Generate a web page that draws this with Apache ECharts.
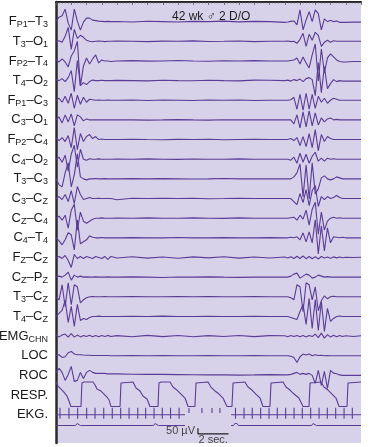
<!DOCTYPE html>
<html><head><meta charset="utf-8">
<script src="https://cdn.jsdelivr.net/npm/echarts@6/dist/echarts.min.js"></script>
<style>html,body{margin:0;padding:0;background:#fff}#c{width:371px;height:447px}</style>
</head><body><div id="c"></div>
<script>
// ---------- time grid (seconds) shared by the EEG / EMG / EOG channels ----------
const T = [0,0.2,0.4,0.6,0.8,1.0,1.2,1.4,1.6,1.8,2.0,2.2,2.4,2.6,2.8,3.0,3.2,3.4,3.6,
  4,5,6,7,8,9,10,11,12,13,14,
  15.0,15.2,15.4,15.6,15.8,16.0,16.2,16.4,16.6,16.8,17.0,17.2,17.4,17.6,17.8,18.0,18.2,18.4,18.6,18.8,19.0,
  19.5,20];

// ---------- channel labels (rich text for subscripts) ----------
const CHANNEL_LABELS = ['F{s|P1}–T{s|3}','T{s|3}–O{s|1}','F{s|P2}–T{s|4}','T{s|4}–O{s|2}','F{s|P1}–C{s|3}','C{s|3}–O{s|1}',
  'F{s|P2}–C{s|4}','C{s|4}–O{s|2}','T{s|3}–C{s|3}','C{s|3}–C{s|Z}','C{s|Z}–C{s|4}','C{s|4}–T{s|4}','F{s|Z}–C{s|Z}',
  'C{s|Z}–P{s|Z}','T{s|3}–C{s|Z}','T{s|4}–C{s|Z}','EMG{s|CHN}','LOC','ROC','RESP.','EKG.'];

// ---------- channel deflections (upward positive), one value per time in T ----------
const FP1_T3 = [0.5,4.5,6,12.5,-1.5,-8.5,12.5,0.5,-8.5,-0.5,3.5,3.5,1.5,1,0.5,0.3,0,0.3,0, 0.2,-0.3,0.4,0,-0.4,0.3,0,0.5,-0.2,0.3,0, -0.7,-0.3,0.3,0.7,-3.3,11.7,-8.3,1.7,10,0,11.7,8,-8.3,2.7,0,1.3,0,0.7,-0.7,-0.7,-0.7, -0.5,-0.5];
const T3_O1 = [0,0.5,-1,5,14,-8,12,3,6,4,1,0,-0.5,0,0.3,0,-0.3,0,0, 0.3,0,-0.3,0.2,0,0.4,-0.2,0,0.3,-0.3,0, 0,0.3,-0.3,0,-2,2,8,-5,7,1,9,6,-5,-1,1,-1,0.5,0,0,0,0, 0,0];
const FP2_T4 = [1.5,-1,2,-1,-6,5,10,19.5,-25,-5,3,-3,2,6,-2,1,0,0,-0.5, 0,0.3,-0.2,0,0.4,0,-0.3,0.2,0,0.3,0, 0,0,0.5,1,3,-3,4,-2,-7,6,17,-20,12,-12,3,7,4,1,-0.5,-1,-1, -0.5,-0.5];
const T4_O2 = [1,0,2,-1,3,10,-11,20,-5,-2,-4,-1,0.5,0,0,0.3,0,0,0, 0.2,0,-0.3,0.3,0,-0.2,0.4,0,-0.3,0.5,0.3, 0,0.5,-0.5,1,0,1.5,-1,2,3,1,-15,18,-12,14,-8,-3,1,-1,0,-0.5,-0.5, -0.5,-0.5];
const FP1_C3 = [0,2,-2,4,-3,7,-8,5,-4,3,-2,1,0.5,0,0.3,0,0,0.2,0, 0,0.3,-0.2,0.2,0,-0.3,0.3,0,0.2,-0.2,0, 0,0,0.5,3,-9,6,-10,7,-9,6,-8,4,-2,2,-3,0,2,1,0,0,0, 0,0];
const C3_O1 = [0,3,-3,5,-2,6,-6,5,3,-1,1,0,0.2,0,0,0.2,0,0,0, 0.2,0,-0.2,0,0.3,0,-0.2,0.2,0,0,0.2, 0,0,0,-4,5,-8,8,-7,9,-6,7,-5,2,-2,1,2,0,0.5,0,0,0, 0,0];
const FP2_C4 = [1,-1,2,-2,4,-8,12,-10,6,-2,3,5,1,3,0,0.5,0,0,0, 0,0.3,0,-0.2,0.2,0,0.3,-0.2,0,0.2,0, 0,0,1,-1,2,-6,3,-7,6,-8,10,-11,5,-2,3,1,0,0,0,0,0, 0,0];
const C4_O2 = [0,2,-3,4,-12,5,14,-8,10,0,-1,0.5,0,0,0.3,0,0,0,0, 0.2,0,0.3,0,-0.2,0.2,0,0,0.3,0,0, 0,0,-1,2,-4,6,-3,5,-4,3,7,-2,1,-2,1,0,0.5,0,0,0,0, 0,0];
const T3_C3 = [0,-6,-8,6,16,-8,4,25,2,0,-1,0,0,0.3,0,0,0.2,0,0, 0,0.2,0,0.2,0,-0.2,0,0.3,0,0,0, 0,0,0,2,6,15,-18,14,-20,16,-15,-10,1,3,0,-1,0,2,1,0,0, 0,0];
const C3_CZ = [0,2,-1,4,-3,8,-5,12,4,-1,0,1,0,0,0.3,0,0,0,0, -1.2,0.2,0,0.3,0,0.2,-0.2,0,0.3,0,0, 0,0,0,-3,-6,5,-4,9,-7,8,13,-8,2,-1,2,0,1,3,1,0,0, 0,0];
const CZ_C4 = [0,2,-2,3,-10,8,14,-12,6,-3,-5,-3,-1,0,0,0.3,0,0,0, 0.2,0,0.3,0,0,0.3,0,-0.2,0.3,0,0, 0,0,0.5,1,-2,3,-1,8,-7,9,16,-16,6,-12,-3,0,1,0,0.5,0,0, 0,0];
const C4_T4 = [0,-3,-7,-2,5,3,-12,18,-6,-4,-2,2,0.5,0,0,0.3,0,0,0, 0,0.2,0,0,0.3,0,0,0.2,0,0,0.2, 0,0,0.5,0,1,-2,5,-4,6,-5,18,-16,12,-13,10,-5,1,0.5,0,0.5,0, 0,0];
const FZ_CZ = [0,1,-1,2,-3,-10,3,-1,1,-1,1,0,-1,1,0,-1,1,-2,1, -0.5,0.8,-0.6,0.5,-0.8,0.6,-0.4,0.7,-0.6,0.5,-0.5, 0.5,-0.6,0.8,-1,1.2,-1,1.5,-1.2,1,-1.3,0.8,-1.5,1,-0.6,0.5,-0.8,0.6,-0.4,0.5,-0.3,0.2, 0,0.3];
const CZ_PZ = [0,1,0,2,5,-3,2,0,1,0,0.3,0,0,0.3,0,0,0,0.3,0, 0,0.3,0,-0.3,0.2,0,0.3,0,-0.2,0,0.2, 0,0,1,3,4,-1,1,3,2,-1,0,2,1,0,0.5,0,0,0,0,0,0, 0,0];
const T3_CZ = [0,-3,12,-10,14,-8,12,10,-6,-3,-1,0,0.3,0,0,0,0.3,0,0, 0,0.2,0,0,0.3,0,0.2,0,0,0.2,0, 0,0,-1,-3,12,10,-15,14,12,-3,10,-14,-4,1,-2,0,0.5,0,0,0,0, 0,0];
const T4_CZ = [0,3,6,16,-6,10,-10,12,-4,-2,-3,-1,0,0,0.3,0,0,0,0, 0,0.2,0,0.3,0,0,0.2,0,0,0.2,0, 0,0,-1,-2,-3,5,12,-8,18,-12,17,-14,15,-15,8,-5,-2,0,0.5,0,0, 0,0];
const EMG_CHN = [0.5,-0.8,1,2,-1,2.5,-1,1,-0.8,0.6,-0.5,0.8,-0.6,0.5,-0.7,0.6,-0.5,0.7,-0.4, 0.5,-0.6,0.7,-0.5,0.6,-0.7,0.5,-0.4,0.6,-0.5,0.5, 0.4,-0.6,0.5,-0.5,0.7,-0.6,0.5,-0.8,0.6,-0.5,2,-1.5,3,-2,1.5,-1,0.8,-0.6,0.5,-0.5,0.4, -0.4,0.3];
const LOC = [0,1,-1.7,-1,3,4.3,1.7,1,1,0.7,0.5,0.5,0.3,0.3,0.3,0.2,0.2,0.2,0, 0,0.2,0,0.2,0,0,0.2,0,0,0.2,0, 0,0,-0.5,-1.7,-6.7,-1,1.7,0.7,1.7,0,1,0.3,0.5,0,0.3,0,0,0,0,0,0, 0,0];
const ROC = [3,7,3,-5,1,9,-6,-5,3,-3,3,5,3,2,2,2,2,1.5,1.5, 1.5,1.2,1,1,0.8,0.6,0.5,0.5,0.3,0.5,0.8, 0.5,0.5,1,2,3,1,2,1,2,0,-8,5,-10,4,-13,5,2.3,1.7,0.5,0,0, 0,0];

// ---------- respiration trace (own time points) ----------
const RESP_T = [0,0.13,0.33,0.52,0.72,0.85,0.98,1.64,1.70,1.84,2.43,2.56,2.69,2.95,3.15,3.34,3.48,3.61,4.20,4.26,4.39,5.05,5.25,5.51,5.70,5.97,6.16,6.69,6.75,6.89,7.48,7.67,7.93,8.20,8.46,8.66,9.11,9.18,9.31,9.97,10.16,10.43,10.69,10.95,11.21,11.54,11.61,11.74,12.39,12.59,12.85,13.11,13.38,13.57,14.03,14.10,14.23,14.89,15.08,15.34,15.61,15.93,16.20,16.59,16.66,16.79,17.38,17.57,17.84,18.10,18.36,18.56,19.08,19.15,19.28,20.0];
const RESP_V = [13,9,6,3,-1,-6,-11.5, -11.5,12,13,13, 10,6,4,1,-2,-5,-11.5, -11.5,12,13,13, 7,4,-1,-4,-11.5, -11.5,12,13,13, 8,5,1,-3,-11.5, -11.5,12,13,13, 8,4,1,-3,-11.5, -11.5,12,13,13, 8,5,1,-3,-11.5, -11.5,12,13,13, 8,5,1,-3,-11.5, -11.5,12,13,13, 8,5,1,-3,-11.5, -11.5,12,13,13];

// ---------- EKG beats (seconds) ----------
const EKG_SEG_A = [0, 8.46];
const EKG_BEATS_A = [0.26,0.85,1.42,2.01,2.56,3.13,3.69,4.24,4.79,5.36,5.88,6.43,6.97,7.51,8.07];
const EKG_GAP_TICKS = [8.72,9.57,10.23,10.75];
const EKG_SEG_B = [11.48, 20];
const EKG_BEATS_B = [11.77,12.33,12.87,13.42,13.97,14.51,15.06,15.61,16.15,16.70,17.25,17.79,18.34,18.89,19.43];
const EKG_R = 7, EKG_S = -4, GAP_TICK = [6.7, 1.7];

// ---------- time-marker line (seconds, deflection) ----------
const TIMEMARK_A = [[0,0],[1.28,0],[1.38,2],[1.44,0.7],[1.51,2],[1.61,0],[6.40,0],[6.49,2],[6.56,0.7],[6.62,2],[6.72,0],[8.46,0]];
const TIMEMARK_B = [[11.48,0],[11.64,0],[11.73,2],[11.80,0.7],[11.87,2],[11.96,0],[16.76,0],[16.85,2],[16.92,0.7],[16.98,2],[17.08,0],[20,0]];

// ---------- calibration ----------
const SCALE_UV = 50, SCALE_SEC = 2, SCALE_T0 = 9.31, UV_PER_UNIT = 8.8;

const CHANNELS = [FP1_T3,T3_O1,FP2_T4,T4_O2,FP1_C3,C3_O1,FP2_C4,C4_O2,T3_C3,C3_CZ,CZ_C4,C4_T4,FZ_CZ,CZ_PZ,T3_CZ,T4_CZ,EMG_CHN,LOC,ROC];

// ---------- build ----------
const GAIN = 1/19.65;          // rows per deflection unit
const TRACE = '#5b3c97';
const FONT = '"Liberation Sans", Arial, Helvetica, sans-serif';
const ROW_RESP = 20, ROW_EKG = 21, ROW_MARK = 21.55, ROW_SCALE = 21.98;

function line(data, w) {
  return {type:'line', data, symbol:'none', silent:true, animation:false,
    lineStyle:{color:TRACE, width:w||1.1}, xAxisIndex:0, yAxisIndex:0};
}
const series = [];
CHANNELS.forEach((vals, i) => {
  if (vals.length !== T.length) console.error('length mismatch', i, vals.length);
  series.push(line(T.map((t, k) => [t, (i + 1) - vals[k] * GAIN])));
});
series.push(line(RESP_T.map((t, k) => [t, ROW_RESP - RESP_V[k] * GAIN])));

function ekgSegment(seg, beats) {
  const d = [[seg[0], ROW_EKG]];
  beats.forEach(b => { d.push([b, ROW_EKG]); d.push([b, ROW_EKG - EKG_R * GAIN]); d.push([b, ROW_EKG - EKG_S * GAIN]); d.push([b, ROW_EKG]); });
  d.push([seg[1], ROW_EKG]);
  return d;
}
series.push(line(ekgSegment(EKG_SEG_A, EKG_BEATS_A)));
series.push(line(ekgSegment(EKG_SEG_B, EKG_BEATS_B)));
const gapData = [];
EKG_GAP_TICKS.forEach(t => { gapData.push([t, ROW_EKG - GAP_TICK[0] * GAIN]); gapData.push([t, ROW_EKG - GAP_TICK[1] * GAIN]); gapData.push([t, null]); });
series.push(line(gapData));

series.push(line(TIMEMARK_A.map(p => [p[0], ROW_MARK - p[1] * GAIN]), 1));
series.push(line(TIMEMARK_B.map(p => [p[0], ROW_MARK - p[1] * GAIN]), 1));

// calibration bar
const barH = (SCALE_UV / UV_PER_UNIT) * GAIN;
series.push({type:'line', symbol:'none', silent:true, animation:false,
  lineStyle:{color:'#222', width:1.2},
  data:[[SCALE_T0, ROW_SCALE - barH],[SCALE_T0, ROW_SCALE],[SCALE_T0 + SCALE_SEC, ROW_SCALE]]});
series.push({type:'scatter', symbolSize:0, silent:true, animation:false,
  data:[
    {value:[SCALE_T0, ROW_SCALE - barH/2], label:{show:true, position:'left', distance:3, formatter:SCALE_UV + ' µV'}},
    {value:[SCALE_T0 + SCALE_SEC/2, ROW_SCALE], label:{show:true, position:'bottom', distance:1, formatter:SCALE_SEC + ' sec.'}}
  ],
  label:{color:'#1a1a1a', fontSize:11, fontFamily:FONT}});

const option = {
  backgroundColor:'#ffffff',
  animation:false,
  title:{text:'42 wk ♂ 2 D/O', left:167, top:6,
    textStyle:{fontSize:12, fontWeight:'normal', color:'#1e1e1e', fontFamily:FONT}},
  grid:{left:56, right:10, top:2, bottom:4, show:true, backgroundColor:'#d7d1e9', borderWidth:0,
    containLabel:false, outerBoundsMode:'none'},
  xAxis:[
    {type:'value', position:'bottom', min:0, max:20, axisLine:{show:true, lineStyle:{color:'#222', width:2}},
      axisTick:{show:false}, axisLabel:{show:false}, splitLine:{show:false}},
    {type:'value', position:'top', min:0, max:20, interval:1,
      axisLine:{show:true, lineStyle:{color:'#333', width:1}},
      axisTick:{show:true, inside:true, length:3, lineStyle:{color:'#555', width:0.8}},
      minorTick:{show:true, splitNumber:5, length:1.6, lineStyle:{color:'#666', width:0.6}},
      axisLabel:{show:false}, splitLine:{show:false}}
  ],
  yAxis:[
    {type:'value', position:'left', min:0, max:22.44, interval:1, inverse:true,
      axisLine:{show:true, lineStyle:{color:'#222', width:1}},
      axisTick:{show:false}, splitLine:{show:false},
      axisLabel:{show:true, margin:8, fontSize:13, lineHeight:15, color:'#1a1a1a', fontFamily:FONT,
        formatter:v => { const r = Math.round(v); if (Math.abs(v - r) > 1e-6 || r < 1 || r > CHANNEL_LABELS.length) return ''; return CHANNEL_LABELS[r - 1]; },
        rich:{s:{fontSize:9, lineHeight:9, verticalAlign:'bottom', color:'#1a1a1a', fontFamily:FONT}}}},
    {type:'value', position:'right', min:0, max:22.44, inverse:true,
      axisLine:{show:true, lineStyle:{color:'#2a2a2a', width:2.5}},
      axisTick:{show:false}, axisLabel:{show:false}, splitLine:{show:false}}
  ],
  series
};
const chart = echarts.init(document.getElementById('c'), null, {renderer:'canvas'});
chart.setOption(option);
</script></body></html>
